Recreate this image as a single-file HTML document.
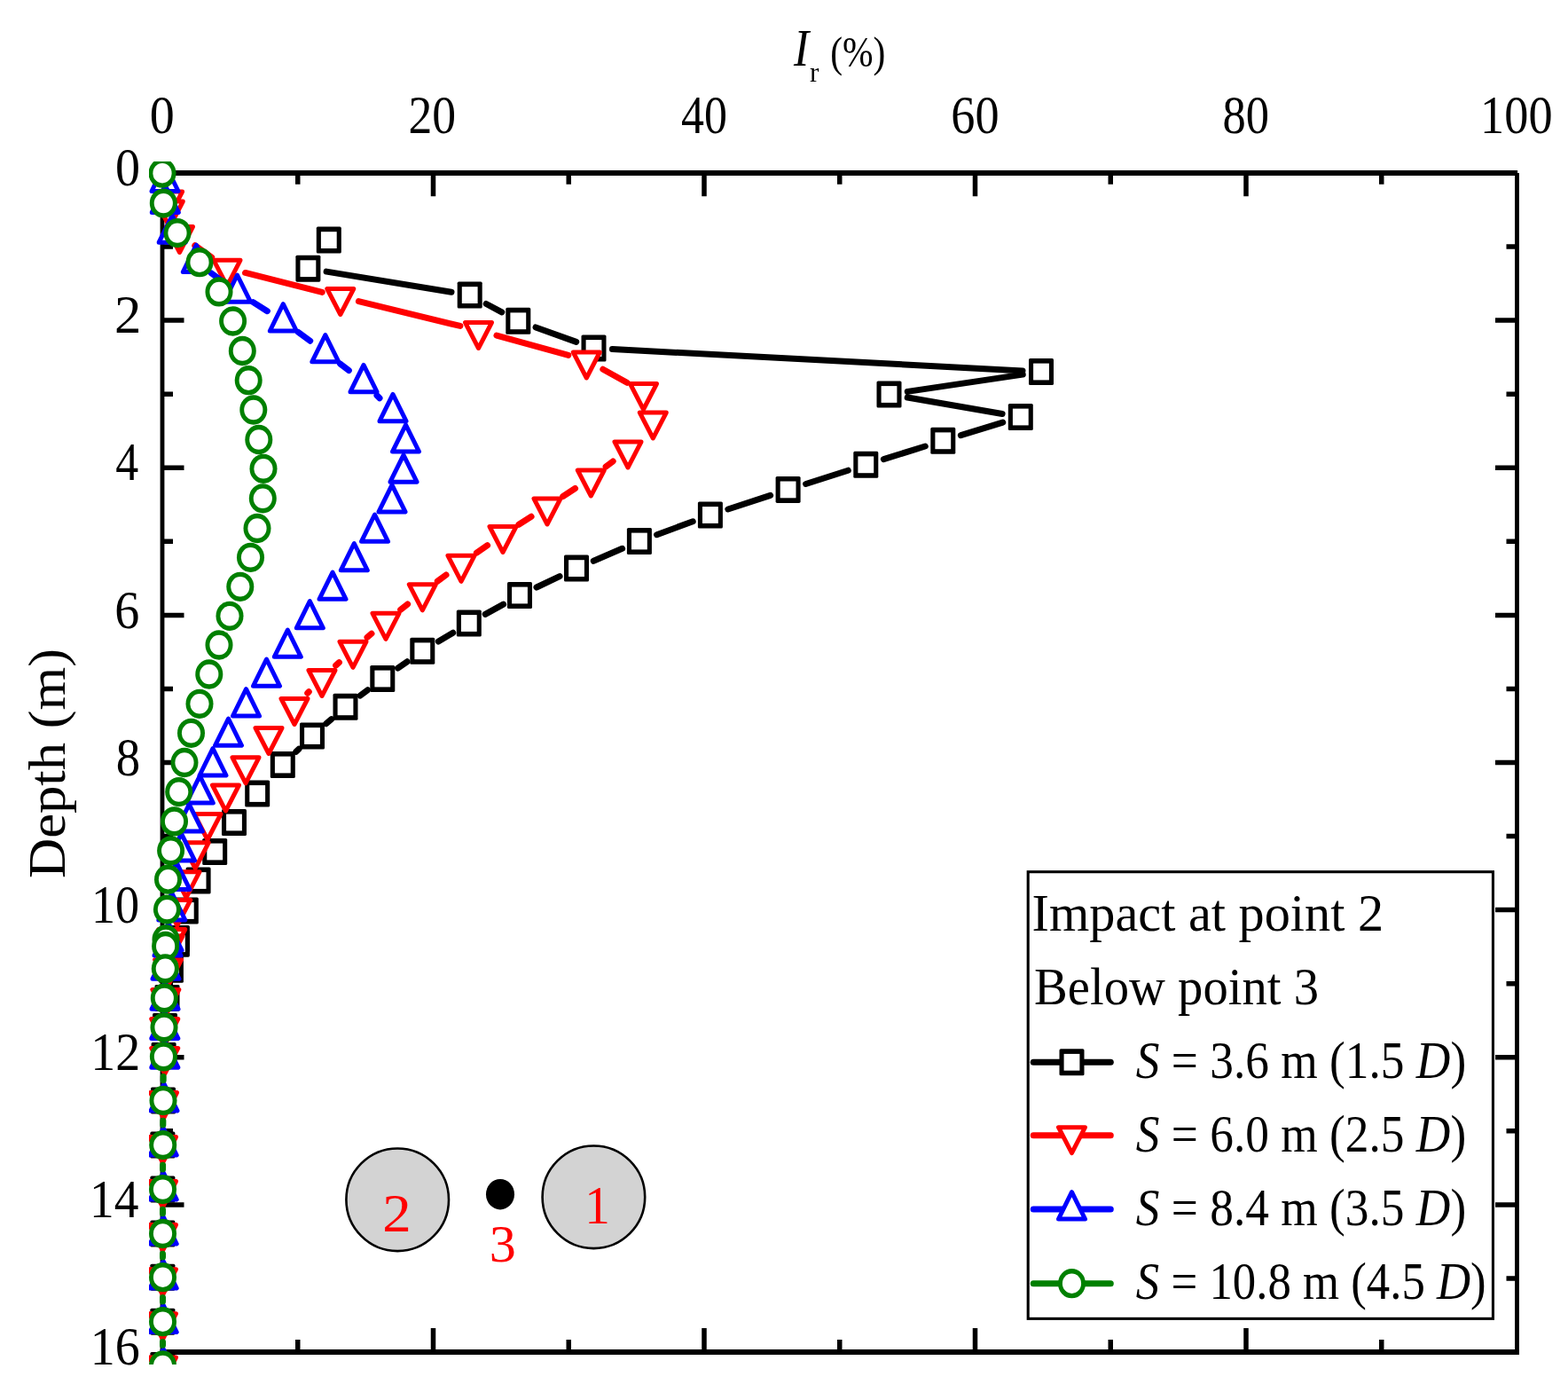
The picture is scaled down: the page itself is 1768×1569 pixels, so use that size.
<!DOCTYPE html><html><head><meta charset="utf-8"><title>Ir vs depth</title><style>html,body{margin:0;padding:0;background:#fff;}svg{display:block;}text{font-family:"Liberation Serif","Times New Roman",serif;}</style></head><body>
<svg width="1768" height="1569" viewBox="0 0 1768 1569">
<rect width="1768" height="1569" fill="#fff"/>
<text transform="matrix(0.89 0 0 1.02 895.1 73.8)" font-size="58" font-style="italic" fill="#000">I</text>
<text transform="matrix(0.92 0 0 0.93 912.88 91.6)" font-size="34" fill="#000">r</text>
<text transform="matrix(0.83 0 0 0.97 936.24 75.19)" font-size="50" fill="#000">(%)</text>
<text transform="matrix(0.95 0 0 1.03 168.8 149.9)" font-size="59" fill="#000">0</text>
<text transform="matrix(0.91 0 0 1.03 460.47 149.9)" font-size="59" fill="#000">20</text>
<text transform="matrix(0.88 0 0 1.03 768.02 149.9)" font-size="59" fill="#000">40</text>
<text transform="matrix(0.92 0 0 1.03 1072.25 149.9)" font-size="59" fill="#000">60</text>
<text transform="matrix(0.89 0 0 1.03 1378.42 149.9)" font-size="59" fill="#000">80</text>
<text transform="matrix(0.92 0 0 1.03 1669.11 149.9)" font-size="59" fill="#000">100</text>
<text transform="matrix(0.95 0 0 1.03 130.1 209.2)" font-size="59" fill="#000">0</text>
<text transform="matrix(1.03 0 0 1.03 128.91 375.32)" font-size="59" fill="#000">2</text>
<text transform="matrix(0.88 0 0 1.03 130.32 541.45)" font-size="59" fill="#000">4</text>
<text transform="matrix(0.95 0 0 1.03 129.16 707.58)" font-size="59" fill="#000">6</text>
<text transform="matrix(0.93 0 0 1.03 130.64 873.7)" font-size="59" fill="#000">8</text>
<text transform="matrix(0.92 0 0 1.03 102.97 1039.83)" font-size="59" fill="#000">10</text>
<text transform="matrix(0.95 0 0 1.03 102.34 1205.95)" font-size="59" fill="#000">12</text>
<text transform="matrix(0.94 0 0 1.03 101.09 1372.08)" font-size="59" fill="#000">14</text>
<text transform="matrix(0.95 0 0 1.03 101.77 1538.2)" font-size="59" fill="#000">16</text>
<text transform="matrix(0 -1.08 1.01 0 72.7 990.06)" font-size="58" fill="#000">Depth (m)</text>
<path d="M335.75 195V207.8M335.75 1524V1510M488.5 195V221.3M488.5 1524V1497M641.25 195V207.8M641.25 1524V1510M794 195V221.3M794 1524V1497M946.75 195V207.8M946.75 1524V1510M1099.5 195V221.3M1099.5 1524V1497M1252.25 195V207.8M1252.25 1524V1510M1405 195V221.3M1405 1524V1497M1557.75 195V207.8M1557.75 1524V1510M183 278.06H195M1710.5 278.06H1698.5M183 361.12H207.5M1710.5 361.12H1686M183 444.19H195M1710.5 444.19H1698.5M183 527.25H207.5M1710.5 527.25H1686M183 610.31H195M1710.5 610.31H1698.5M183 693.38H207.5M1710.5 693.38H1686M183 776.44H195M1710.5 776.44H1698.5M183 859.5H207.5M1710.5 859.5H1686M183 942.56H195M1710.5 942.56H1698.5M183 1025.62H207.5M1710.5 1025.62H1686M183 1108.69H195M1710.5 1108.69H1698.5M183 1191.75H207.5M1710.5 1191.75H1686M183 1274.81H195M1710.5 1274.81H1698.5M183 1357.88H207.5M1710.5 1357.88H1686M183 1440.94H195M1710.5 1440.94H1698.5" stroke="#000" stroke-width="5.5" fill="none"/>
<path d="M180.6 195H1711.1M180.6 1524H1712.9" stroke="#000" stroke-width="5.8" fill="none"/>
<path d="M183 192.1V1526.9M1710.5 195V1526.9" stroke="#000" stroke-width="4.8" fill="none"/>
<defs><clipPath id="cp"><rect x="168" y="182" width="1560" height="1356"/></clipPath></defs>
<g clip-path="url(#cp)">
<path d="M368.12 306.1L508.98 329.2M548.22 342.5L565.78 351.9M604.06 368.92L649.74 385.38M690.47 393.6L1153.03 417.9M1153.23 422.09L1023.27 441.41M1023.2 448.06L1130.1 466.44M1130.72 476.15L1083.38 490.65M1043.24 503.02L996.36 517.58M956.3 530.21L908.6 545.49M868.63 558.41L820.87 573.99M781.2 587.77L740.6 602.73M701.62 618.32L669.28 632.28M631.03 649.61L604.97 661.99M567.6 681.13L547.2 692.37M510.76 713.25L494.34 723.05M459.04 745.77L448.56 753.03M414.59 777.71L406.21 784.09M373.67 810.6L367.83 815.7M336.99 844.19L333.81 847.31" fill="none" stroke="#000" stroke-width="7.0" stroke-linecap="round"/>
<rect x="356.8" y="255.6" width="28" height="30" rx="1.6" fill="#000"/><rect x="361.9" y="261.2" width="17.8" height="18.8" fill="#fff"/>
<rect x="333.4" y="287.7" width="28" height="30" rx="1.6" fill="#000"/><rect x="338.5" y="293.3" width="17.8" height="18.8" fill="#fff"/>
<rect x="515.7" y="317.6" width="28" height="30" rx="1.6" fill="#000"/><rect x="520.8" y="323.2" width="17.8" height="18.8" fill="#fff"/>
<rect x="570.3" y="346.8" width="28" height="30" rx="1.6" fill="#000"/><rect x="575.4" y="352.4" width="17.8" height="18.8" fill="#fff"/>
<rect x="655.5" y="377.5" width="28" height="30" rx="1.6" fill="#000"/><rect x="660.6" y="383.1" width="17.8" height="18.8" fill="#fff"/>
<rect x="1160" y="404" width="28" height="30" rx="1.6" fill="#000"/><rect x="1165.1" y="409.6" width="17.8" height="18.8" fill="#fff"/>
<rect x="988.5" y="429.5" width="28" height="30" rx="1.6" fill="#000"/><rect x="993.6" y="435.1" width="17.8" height="18.8" fill="#fff"/>
<rect x="1136.8" y="455" width="28" height="30" rx="1.6" fill="#000"/><rect x="1141.9" y="460.6" width="17.8" height="18.8" fill="#fff"/>
<rect x="1049.3" y="481.8" width="28" height="30" rx="1.6" fill="#000"/><rect x="1054.4" y="487.4" width="17.8" height="18.8" fill="#fff"/>
<rect x="962.3" y="508.8" width="28" height="30" rx="1.6" fill="#000"/><rect x="967.4" y="514.4" width="17.8" height="18.8" fill="#fff"/>
<rect x="874.6" y="536.9" width="28" height="30" rx="1.6" fill="#000"/><rect x="879.7" y="542.5" width="17.8" height="18.8" fill="#fff"/>
<rect x="786.9" y="565.5" width="28" height="30" rx="1.6" fill="#000"/><rect x="792" y="571.1" width="17.8" height="18.8" fill="#fff"/>
<rect x="706.9" y="595" width="28" height="30" rx="1.6" fill="#000"/><rect x="712" y="600.6" width="17.8" height="18.8" fill="#fff"/>
<rect x="636" y="625.6" width="28" height="30" rx="1.6" fill="#000"/><rect x="641.1" y="631.2" width="17.8" height="18.8" fill="#fff"/>
<rect x="572" y="656" width="28" height="30" rx="1.6" fill="#000"/><rect x="577.1" y="661.6" width="17.8" height="18.8" fill="#fff"/>
<rect x="514.8" y="687.5" width="28" height="30" rx="1.6" fill="#000"/><rect x="519.9" y="693.1" width="17.8" height="18.8" fill="#fff"/>
<rect x="462.3" y="718.8" width="28" height="30" rx="1.6" fill="#000"/><rect x="467.4" y="724.4" width="17.8" height="18.8" fill="#fff"/>
<rect x="417.3" y="750" width="28" height="30" rx="1.6" fill="#000"/><rect x="422.4" y="755.6" width="17.8" height="18.8" fill="#fff"/>
<rect x="375.5" y="781.8" width="28" height="30" rx="1.6" fill="#000"/><rect x="380.6" y="787.4" width="17.8" height="18.8" fill="#fff"/>
<rect x="338" y="814.5" width="28" height="30" rx="1.6" fill="#000"/><rect x="343.1" y="820.1" width="17.8" height="18.8" fill="#fff"/>
<rect x="304.8" y="847" width="28" height="30" rx="1.6" fill="#000"/><rect x="309.9" y="852.6" width="17.8" height="18.8" fill="#fff"/>
<rect x="276.2" y="879.5" width="28" height="30" rx="1.6" fill="#000"/><rect x="281.3" y="885.1" width="17.8" height="18.8" fill="#fff"/>
<rect x="250" y="912" width="28" height="30" rx="1.6" fill="#000"/><rect x="255.1" y="917.6" width="17.8" height="18.8" fill="#fff"/>
<rect x="228.2" y="945" width="28" height="30" rx="1.6" fill="#000"/><rect x="233.3" y="950.6" width="17.8" height="18.8" fill="#fff"/>
<rect x="209.6" y="977.5" width="28" height="30" rx="1.6" fill="#000"/><rect x="214.7" y="983.1" width="17.8" height="18.8" fill="#fff"/>
<rect x="195.8" y="1011.5" width="28" height="30" rx="1.6" fill="#000"/><rect x="200.9" y="1017.1" width="17.8" height="18.8" fill="#fff"/>
<rect x="185.9" y="1043" width="28" height="30" rx="1.6" fill="#000"/><rect x="191" y="1048.6" width="17.8" height="18.8" fill="#fff"/>
<rect x="185.9" y="1048.7" width="28" height="30" rx="1.6" fill="#000"/><rect x="191" y="1054.3" width="17.8" height="18.8" fill="#fff"/>
<rect x="178.9" y="1077.8" width="28" height="30" rx="1.6" fill="#000"/><rect x="184" y="1083.4" width="17.8" height="18.8" fill="#fff"/>
<rect x="174.5" y="1110" width="28" height="30" rx="1.6" fill="#000"/><rect x="179.6" y="1115.6" width="17.8" height="18.8" fill="#fff"/>
<rect x="172" y="1142" width="28" height="30" rx="1.6" fill="#000"/><rect x="177.1" y="1147.6" width="17.8" height="18.8" fill="#fff"/>
<rect x="170.6" y="1175" width="28" height="30" rx="1.6" fill="#000"/><rect x="175.7" y="1180.6" width="17.8" height="18.8" fill="#fff"/>
<rect x="170" y="1225.5" width="28" height="30" rx="1.6" fill="#000"/><rect x="175.1" y="1231.1" width="17.8" height="18.8" fill="#fff"/>
<rect x="169.4" y="1275.6" width="28" height="30" rx="1.6" fill="#000"/><rect x="174.5" y="1281.2" width="17.8" height="18.8" fill="#fff"/>
<rect x="169.4" y="1325.6" width="28" height="30" rx="1.6" fill="#000"/><rect x="174.5" y="1331.2" width="17.8" height="18.8" fill="#fff"/>
<rect x="169.4" y="1375.5" width="28" height="30" rx="1.6" fill="#000"/><rect x="174.5" y="1381.1" width="17.8" height="18.8" fill="#fff"/>
<rect x="169.4" y="1424.7" width="28" height="30" rx="1.6" fill="#000"/><rect x="174.5" y="1430.3" width="17.8" height="18.8" fill="#fff"/>
<rect x="169.4" y="1474.7" width="28" height="30" rx="1.6" fill="#000"/><rect x="174.5" y="1480.3" width="17.8" height="18.8" fill="#fff"/>
<rect x="169.4" y="1524" width="28" height="30" rx="1.6" fill="#000"/><rect x="174.5" y="1529.6" width="17.8" height="18.8" fill="#fff"/>
<path d="M219.81 276.73L238.69 290.07M276.56 307.48L363.24 329.32M404.4 339.53L518.9 367.47M559.94 378.12L640.86 400.38M679.85 416.26L706.95 431.24M691.18 519.91L683.12 526.09M648.52 550.54L634.78 559.46M599.06 582.3L584.94 591.2M549.61 614.63L537.39 623.17M502.99 647.95L493.31 655.15M459.64 680.91L451.66 687.19M418.97 714.17L414.03 718.43M382.4 746.65L378.6 750.15M348.25 779.73L346.75 781.27" fill="none" stroke="#f00" stroke-width="7.0" stroke-linecap="round"/>
<path d="M175.6 216L205.6 216L190.6 245Z" fill="#fff" stroke="#f00" stroke-width="5.0" stroke-linejoin="round"/>
<path d="M176.3 227L206.3 227L191.3 256Z" fill="#fff" stroke="#f00" stroke-width="5.0" stroke-linejoin="round"/>
<path d="M187.5 255.5L217.5 255.5L202.5 284.5Z" fill="#fff" stroke="#f00" stroke-width="5.0" stroke-linejoin="round"/>
<path d="M241 293.3L271 293.3L256 322.3Z" fill="#fff" stroke="#f00" stroke-width="5.0" stroke-linejoin="round"/>
<path d="M368.8 325.5L398.8 325.5L383.8 354.5Z" fill="#fff" stroke="#f00" stroke-width="5.0" stroke-linejoin="round"/>
<path d="M524.5 363.5L554.5 363.5L539.5 392.5Z" fill="#fff" stroke="#f00" stroke-width="5.0" stroke-linejoin="round"/>
<path d="M646.3 397L676.3 397L661.3 426Z" fill="#fff" stroke="#f00" stroke-width="5.0" stroke-linejoin="round"/>
<path d="M710.5 432.5L740.5 432.5L725.5 461.5Z" fill="#fff" stroke="#f00" stroke-width="5.0" stroke-linejoin="round"/>
<path d="M721.3 465L751.3 465L736.3 494Z" fill="#fff" stroke="#f00" stroke-width="5.0" stroke-linejoin="round"/>
<path d="M693 498L723 498L708 527Z" fill="#fff" stroke="#f00" stroke-width="5.0" stroke-linejoin="round"/>
<path d="M651.3 530L681.3 530L666.3 559Z" fill="#fff" stroke="#f00" stroke-width="5.0" stroke-linejoin="round"/>
<path d="M602 562L632 562L617 591Z" fill="#fff" stroke="#f00" stroke-width="5.0" stroke-linejoin="round"/>
<path d="M552 593.5L582 593.5L567 622.5Z" fill="#fff" stroke="#f00" stroke-width="5.0" stroke-linejoin="round"/>
<path d="M505 626.3L535 626.3L520 655.3Z" fill="#fff" stroke="#f00" stroke-width="5.0" stroke-linejoin="round"/>
<path d="M461.3 658.8L491.3 658.8L476.3 687.8Z" fill="#fff" stroke="#f00" stroke-width="5.0" stroke-linejoin="round"/>
<path d="M420 691.3L450 691.3L435 720.3Z" fill="#fff" stroke="#f00" stroke-width="5.0" stroke-linejoin="round"/>
<path d="M383 723.3L413 723.3L398 752.3Z" fill="#fff" stroke="#f00" stroke-width="5.0" stroke-linejoin="round"/>
<path d="M348 755.5L378 755.5L363 784.5Z" fill="#fff" stroke="#f00" stroke-width="5.0" stroke-linejoin="round"/>
<path d="M317 787.5L347 787.5L332 816.5Z" fill="#fff" stroke="#f00" stroke-width="5.0" stroke-linejoin="round"/>
<path d="M288 820.5L318 820.5L303 849.5Z" fill="#fff" stroke="#f00" stroke-width="5.0" stroke-linejoin="round"/>
<path d="M262 853.8L292 853.8L277 882.8Z" fill="#fff" stroke="#f00" stroke-width="5.0" stroke-linejoin="round"/>
<path d="M239.5 885L269.5 885L254.5 914Z" fill="#fff" stroke="#f00" stroke-width="5.0" stroke-linejoin="round"/>
<path d="M219 917.5L249 917.5L234 946.5Z" fill="#fff" stroke="#f00" stroke-width="5.0" stroke-linejoin="round"/>
<path d="M205.2 949.8L235.2 949.8L220.2 978.8Z" fill="#fff" stroke="#f00" stroke-width="5.0" stroke-linejoin="round"/>
<path d="M195 982.7L225 982.7L210 1011.7Z" fill="#fff" stroke="#f00" stroke-width="5.0" stroke-linejoin="round"/>
<path d="M184.8 1014.4L214.8 1014.4L199.8 1043.4Z" fill="#fff" stroke="#f00" stroke-width="5.0" stroke-linejoin="round"/>
<path d="M178.8 1047.5L208.8 1047.5L193.8 1076.5Z" fill="#fff" stroke="#f00" stroke-width="5.0" stroke-linejoin="round"/>
<path d="M176 1055L206 1055L191 1084Z" fill="#fff" stroke="#f00" stroke-width="5.0" stroke-linejoin="round"/>
<path d="M174.6 1081.7L204.6 1081.7L189.6 1110.7Z" fill="#fff" stroke="#f00" stroke-width="5.0" stroke-linejoin="round"/>
<path d="M171.9 1115.4L201.9 1115.4L186.9 1144.4Z" fill="#fff" stroke="#f00" stroke-width="5.0" stroke-linejoin="round"/>
<path d="M170.8 1148.5L200.8 1148.5L185.8 1177.5Z" fill="#fff" stroke="#f00" stroke-width="5.0" stroke-linejoin="round"/>
<path d="M170.8 1181.4L200.8 1181.4L185.8 1210.4Z" fill="#fff" stroke="#f00" stroke-width="5.0" stroke-linejoin="round"/>
<path d="M169.5 1231.5L199.5 1231.5L184.5 1260.5Z" fill="#fff" stroke="#f00" stroke-width="5.0" stroke-linejoin="round"/>
<path d="M168.5 1281.6L198.5 1281.6L183.5 1310.6Z" fill="#fff" stroke="#f00" stroke-width="5.0" stroke-linejoin="round"/>
<path d="M168.5 1331.6L198.5 1331.6L183.5 1360.6Z" fill="#fff" stroke="#f00" stroke-width="5.0" stroke-linejoin="round"/>
<path d="M168.5 1380.5L198.5 1380.5L183.5 1409.5Z" fill="#fff" stroke="#f00" stroke-width="5.0" stroke-linejoin="round"/>
<path d="M168.5 1430.7L198.5 1430.7L183.5 1459.7Z" fill="#fff" stroke="#f00" stroke-width="5.0" stroke-linejoin="round"/>
<path d="M168.5 1480.7L198.5 1480.7L183.5 1509.7Z" fill="#fff" stroke="#f00" stroke-width="5.0" stroke-linejoin="round"/>
<path d="M168.5 1530L198.5 1530L183.5 1559Z" fill="#fff" stroke="#f00" stroke-width="5.0" stroke-linejoin="round"/>
<path d="M238.41 308.02L250.39 316.78M285.43 340.62L301.37 350.68M336.4 374.53L349.7 384.27M383.48 409.89L393.32 417.61M424.99 445.69L428.01 448.71" fill="none" stroke="#00f" stroke-width="7.0" stroke-linecap="round"/>
<path d="M186 185.2L201 215.5L171 215.5Z" fill="#fff" stroke="#00f" stroke-width="5.0" stroke-linejoin="round"/>
<path d="M186.3 209.1L201.3 239.4L171.3 239.4Z" fill="#fff" stroke="#00f" stroke-width="5.0" stroke-linejoin="round"/>
<path d="M194.2 242.9L209.2 273.2L179.2 273.2Z" fill="#fff" stroke="#00f" stroke-width="5.0" stroke-linejoin="round"/>
<path d="M221.3 276.2L236.3 306.5L206.3 306.5Z" fill="#fff" stroke="#00f" stroke-width="5.0" stroke-linejoin="round"/>
<path d="M267.5 310L282.5 340.3L252.5 340.3Z" fill="#fff" stroke="#00f" stroke-width="5.0" stroke-linejoin="round"/>
<path d="M319.3 342.7L334.3 373L304.3 373Z" fill="#fff" stroke="#00f" stroke-width="5.0" stroke-linejoin="round"/>
<path d="M366.8 377.5L381.8 407.8L351.8 407.8Z" fill="#fff" stroke="#00f" stroke-width="5.0" stroke-linejoin="round"/>
<path d="M410 411.4L425 441.7L395 441.7Z" fill="#fff" stroke="#00f" stroke-width="5.0" stroke-linejoin="round"/>
<path d="M443 444.4L458 474.7L428 474.7Z" fill="#fff" stroke="#00f" stroke-width="5.0" stroke-linejoin="round"/>
<path d="M457.5 478.8L472.5 509.1L442.5 509.1Z" fill="#fff" stroke="#00f" stroke-width="5.0" stroke-linejoin="round"/>
<path d="M455 512.9L470 543.2L440 543.2Z" fill="#fff" stroke="#00f" stroke-width="5.0" stroke-linejoin="round"/>
<path d="M442 546.6L457 576.9L427 576.9Z" fill="#fff" stroke="#00f" stroke-width="5.0" stroke-linejoin="round"/>
<path d="M422.5 580L437.5 610.3L407.5 610.3Z" fill="#fff" stroke="#00f" stroke-width="5.0" stroke-linejoin="round"/>
<path d="M399.3 612.5L414.3 642.8L384.3 642.8Z" fill="#fff" stroke="#00f" stroke-width="5.0" stroke-linejoin="round"/>
<path d="M375 645L390 675.3L360 675.3Z" fill="#fff" stroke="#00f" stroke-width="5.0" stroke-linejoin="round"/>
<path d="M349.3 677.5L364.3 707.8L334.3 707.8Z" fill="#fff" stroke="#00f" stroke-width="5.0" stroke-linejoin="round"/>
<path d="M324.3 710L339.3 740.3L309.3 740.3Z" fill="#fff" stroke="#00f" stroke-width="5.0" stroke-linejoin="round"/>
<path d="M300.5 743L315.5 773.3L285.5 773.3Z" fill="#fff" stroke="#00f" stroke-width="5.0" stroke-linejoin="round"/>
<path d="M277.5 776.7L292.5 807L262.5 807Z" fill="#fff" stroke="#00f" stroke-width="5.0" stroke-linejoin="round"/>
<path d="M257.5 810L272.5 840.3L242.5 840.3Z" fill="#fff" stroke="#00f" stroke-width="5.0" stroke-linejoin="round"/>
<path d="M240 843.7L255 874L225 874Z" fill="#fff" stroke="#00f" stroke-width="5.0" stroke-linejoin="round"/>
<path d="M225.3 874.7L240.3 905L210.3 905Z" fill="#fff" stroke="#00f" stroke-width="5.0" stroke-linejoin="round"/>
<path d="M213.3 906.7L228.3 937L198.3 937Z" fill="#fff" stroke="#00f" stroke-width="5.0" stroke-linejoin="round"/>
<path d="M204.5 939.6L219.5 969.9L189.5 969.9Z" fill="#fff" stroke="#00f" stroke-width="5.0" stroke-linejoin="round"/>
<path d="M199 972.2L214 1002.5L184 1002.5Z" fill="#fff" stroke="#00f" stroke-width="5.0" stroke-linejoin="round"/>
<path d="M193.8 1006.7L208.8 1037L178.8 1037Z" fill="#fff" stroke="#00f" stroke-width="5.0" stroke-linejoin="round"/>
<path d="M190 1040.7L205 1071L175 1071Z" fill="#fff" stroke="#00f" stroke-width="5.0" stroke-linejoin="round"/>
<path d="M189 1046.7L204 1077L174 1077Z" fill="#fff" stroke="#00f" stroke-width="5.0" stroke-linejoin="round"/>
<path d="M187 1073L202 1103.3L172 1103.3Z" fill="#fff" stroke="#00f" stroke-width="5.0" stroke-linejoin="round"/>
<path d="M186 1107L201 1137.3L171 1137.3Z" fill="#fff" stroke="#00f" stroke-width="5.0" stroke-linejoin="round"/>
<path d="M185.8 1140.1L200.8 1170.4L170.8 1170.4Z" fill="#fff" stroke="#00f" stroke-width="5.0" stroke-linejoin="round"/>
<path d="M185.8 1172.9L200.8 1203.2L170.8 1203.2Z" fill="#fff" stroke="#00f" stroke-width="5.0" stroke-linejoin="round"/>
<path d="M185 1221.7L200 1252L170 1252Z" fill="#fff" stroke="#00f" stroke-width="5.0" stroke-linejoin="round"/>
<path d="M184.2 1271.7L199.2 1302L169.2 1302Z" fill="#fff" stroke="#00f" stroke-width="5.0" stroke-linejoin="round"/>
<path d="M184.2 1321.7L199.2 1352L169.2 1352Z" fill="#fff" stroke="#00f" stroke-width="5.0" stroke-linejoin="round"/>
<path d="M184.2 1371.7L199.2 1402L169.2 1402Z" fill="#fff" stroke="#00f" stroke-width="5.0" stroke-linejoin="round"/>
<path d="M184.2 1421.7L199.2 1452L169.2 1452Z" fill="#fff" stroke="#00f" stroke-width="5.0" stroke-linejoin="round"/>
<path d="M184.2 1471.2L199.2 1501.5L169.2 1501.5Z" fill="#fff" stroke="#00f" stroke-width="5.0" stroke-linejoin="round"/>
<path d="M184.2 1520.7L199.2 1551L169.2 1551Z" fill="#fff" stroke="#00f" stroke-width="5.0" stroke-linejoin="round"/>
<path d="M184.22 1213.6L184.18 1217.8M183.86 1263.2L183.84 1267.9M183.61 1313.3L183.59 1317.9M183.5 1363.3L183.5 1367.8M183.5 1413.2L183.5 1417M183.5 1462.4L183.5 1467M183.5 1512.4L183.5 1516.3" fill="none" stroke="#008000" stroke-width="7.0" stroke-linecap="round"/>
<ellipse cx="183" cy="195.2" rx="15.5" ry="16.65" fill="#008000"/><ellipse cx="183" cy="195.2" rx="10.6" ry="11.2" fill="#fff"/>
<ellipse cx="184.3" cy="229.1" rx="15.5" ry="16.65" fill="#008000"/><ellipse cx="184.3" cy="229.1" rx="10.6" ry="11.2" fill="#fff"/>
<ellipse cx="200" cy="262.6" rx="15.5" ry="16.65" fill="#008000"/><ellipse cx="200" cy="262.6" rx="10.6" ry="11.2" fill="#fff"/>
<ellipse cx="225" cy="295.7" rx="15.5" ry="16.65" fill="#008000"/><ellipse cx="225" cy="295.7" rx="10.6" ry="11.2" fill="#fff"/>
<ellipse cx="247" cy="328.9" rx="15.5" ry="16.65" fill="#008000"/><ellipse cx="247" cy="328.9" rx="10.6" ry="11.2" fill="#fff"/>
<ellipse cx="262.6" cy="362" rx="15.5" ry="16.65" fill="#008000"/><ellipse cx="262.6" cy="362" rx="10.6" ry="11.2" fill="#fff"/>
<ellipse cx="273.3" cy="395.5" rx="15.5" ry="16.65" fill="#008000"/><ellipse cx="273.3" cy="395.5" rx="10.6" ry="11.2" fill="#fff"/>
<ellipse cx="280.2" cy="428.7" rx="15.5" ry="16.65" fill="#008000"/><ellipse cx="280.2" cy="428.7" rx="10.6" ry="11.2" fill="#fff"/>
<ellipse cx="285.8" cy="462" rx="15.5" ry="16.65" fill="#008000"/><ellipse cx="285.8" cy="462" rx="10.6" ry="11.2" fill="#fff"/>
<ellipse cx="291.8" cy="495.5" rx="15.5" ry="16.65" fill="#008000"/><ellipse cx="291.8" cy="495.5" rx="10.6" ry="11.2" fill="#fff"/>
<ellipse cx="297" cy="528.3" rx="15.5" ry="16.65" fill="#008000"/><ellipse cx="297" cy="528.3" rx="10.6" ry="11.2" fill="#fff"/>
<ellipse cx="296.3" cy="561.8" rx="15.5" ry="16.65" fill="#008000"/><ellipse cx="296.3" cy="561.8" rx="10.6" ry="11.2" fill="#fff"/>
<ellipse cx="290" cy="595.5" rx="15.5" ry="16.65" fill="#008000"/><ellipse cx="290" cy="595.5" rx="10.6" ry="11.2" fill="#fff"/>
<ellipse cx="282.5" cy="628.3" rx="15.5" ry="16.65" fill="#008000"/><ellipse cx="282.5" cy="628.3" rx="10.6" ry="11.2" fill="#fff"/>
<ellipse cx="270.8" cy="661.3" rx="15.5" ry="16.65" fill="#008000"/><ellipse cx="270.8" cy="661.3" rx="10.6" ry="11.2" fill="#fff"/>
<ellipse cx="259" cy="694.3" rx="15.5" ry="16.65" fill="#008000"/><ellipse cx="259" cy="694.3" rx="10.6" ry="11.2" fill="#fff"/>
<ellipse cx="247" cy="727" rx="15.5" ry="16.65" fill="#008000"/><ellipse cx="247" cy="727" rx="10.6" ry="11.2" fill="#fff"/>
<ellipse cx="235.8" cy="760" rx="15.5" ry="16.65" fill="#008000"/><ellipse cx="235.8" cy="760" rx="10.6" ry="11.2" fill="#fff"/>
<ellipse cx="225" cy="793.3" rx="15.5" ry="16.65" fill="#008000"/><ellipse cx="225" cy="793.3" rx="10.6" ry="11.2" fill="#fff"/>
<ellipse cx="215.5" cy="826.3" rx="15.5" ry="16.65" fill="#008000"/><ellipse cx="215.5" cy="826.3" rx="10.6" ry="11.2" fill="#fff"/>
<ellipse cx="208" cy="859.5" rx="15.5" ry="16.65" fill="#008000"/><ellipse cx="208" cy="859.5" rx="10.6" ry="11.2" fill="#fff"/>
<ellipse cx="201.7" cy="892.6" rx="15.5" ry="16.65" fill="#008000"/><ellipse cx="201.7" cy="892.6" rx="10.6" ry="11.2" fill="#fff"/>
<ellipse cx="196.5" cy="925.9" rx="15.5" ry="16.65" fill="#008000"/><ellipse cx="196.5" cy="925.9" rx="10.6" ry="11.2" fill="#fff"/>
<ellipse cx="192.6" cy="958.8" rx="15.5" ry="16.65" fill="#008000"/><ellipse cx="192.6" cy="958.8" rx="10.6" ry="11.2" fill="#fff"/>
<ellipse cx="189.5" cy="991.2" rx="15.5" ry="16.65" fill="#008000"/><ellipse cx="189.5" cy="991.2" rx="10.6" ry="11.2" fill="#fff"/>
<ellipse cx="188.4" cy="1025.1" rx="15.5" ry="16.65" fill="#008000"/><ellipse cx="188.4" cy="1025.1" rx="10.6" ry="11.2" fill="#fff"/>
<ellipse cx="187" cy="1059" rx="15.5" ry="16.65" fill="#008000"/><ellipse cx="187" cy="1059" rx="10.6" ry="11.2" fill="#fff"/>
<ellipse cx="186.6" cy="1066.5" rx="15.5" ry="16.65" fill="#008000"/><ellipse cx="186.6" cy="1066.5" rx="10.6" ry="11.2" fill="#fff"/>
<ellipse cx="186.3" cy="1091.8" rx="15.5" ry="16.65" fill="#008000"/><ellipse cx="186.3" cy="1091.8" rx="10.6" ry="11.2" fill="#fff"/>
<ellipse cx="185.3" cy="1124.9" rx="15.5" ry="16.65" fill="#008000"/><ellipse cx="185.3" cy="1124.9" rx="10.6" ry="11.2" fill="#fff"/>
<ellipse cx="185" cy="1157.9" rx="15.5" ry="16.65" fill="#008000"/><ellipse cx="185" cy="1157.9" rx="10.6" ry="11.2" fill="#fff"/>
<ellipse cx="184.4" cy="1190.9" rx="15.5" ry="16.65" fill="#008000"/><ellipse cx="184.4" cy="1190.9" rx="10.6" ry="11.2" fill="#fff"/>
<ellipse cx="184" cy="1240.5" rx="15.5" ry="16.65" fill="#008000"/><ellipse cx="184" cy="1240.5" rx="10.6" ry="11.2" fill="#fff"/>
<ellipse cx="183.7" cy="1290.6" rx="15.5" ry="16.65" fill="#008000"/><ellipse cx="183.7" cy="1290.6" rx="10.6" ry="11.2" fill="#fff"/>
<ellipse cx="183.5" cy="1340.6" rx="15.5" ry="16.65" fill="#008000"/><ellipse cx="183.5" cy="1340.6" rx="10.6" ry="11.2" fill="#fff"/>
<ellipse cx="183.5" cy="1390.5" rx="15.5" ry="16.65" fill="#008000"/><ellipse cx="183.5" cy="1390.5" rx="10.6" ry="11.2" fill="#fff"/>
<ellipse cx="183.5" cy="1439.7" rx="15.5" ry="16.65" fill="#008000"/><ellipse cx="183.5" cy="1439.7" rx="10.6" ry="11.2" fill="#fff"/>
<ellipse cx="183.5" cy="1489.7" rx="15.5" ry="16.65" fill="#008000"/><ellipse cx="183.5" cy="1489.7" rx="10.6" ry="11.2" fill="#fff"/>
<ellipse cx="183.5" cy="1539" rx="15.5" ry="16.65" fill="#008000"/><ellipse cx="183.5" cy="1539" rx="10.6" ry="11.2" fill="#fff"/>
</g>
<circle cx="448.2" cy="1352.3" r="57.8" fill="#d3d3d3" stroke="#000" stroke-width="2.6"/>
<circle cx="669.4" cy="1349.3" r="57.8" fill="#d3d3d3" stroke="#000" stroke-width="2.6"/>
<ellipse cx="564" cy="1346.2" rx="16" ry="17.2" fill="#000"/>
<text transform="matrix(1.1 0 0 1.03 431.31 1387.5)" font-size="59" fill="#f00">2</text>
<text transform="matrix(0.97 0 0 1.03 659.14 1378.8)" font-size="59" fill="#f00">1</text>
<text transform="matrix(1.02 0 0 1.02 551.65 1421.5)" font-size="59" fill="#f00">3</text>
<rect x="1159.2" y="982.7" width="524.25" height="503.65" fill="#fff" stroke="#000" stroke-width="3.1"/>
<text transform="matrix(1.06 0 0 1.06 1163.58 1048.9)" font-size="55" fill="#000">Impact at point 2</text>
<text transform="matrix(1.03 0 0 1.06 1166.05 1131.9)" font-size="55" fill="#000">Below point 3</text>
<path d="M1165.2 1197.3H1252.3" stroke="#000" stroke-width="7.0" stroke-linecap="round"/>
<rect x="1194.5" y="1182.3" width="28" height="30" rx="1.6" fill="#000"/><rect x="1199.6" y="1187.9" width="17.8" height="18.8" fill="#fff"/>
<text transform="matrix(0.97 0 0 1.07 1280.83 1214.75)" font-size="55" fill="#000"><tspan font-style="italic">S</tspan> = 3.6 m (1.5 <tspan font-style="italic">D</tspan>)</text>
<path d="M1165.2 1279.7H1252.3" stroke="#f00" stroke-width="7.0" stroke-linecap="round"/>
<path d="M1193.5 1270.7L1223.5 1270.7L1208.5 1299.7Z" fill="#fff" stroke="#f00" stroke-width="5.0" stroke-linejoin="round"/>
<text transform="matrix(0.97 0 0 1.07 1280.83 1297.7)" font-size="55" fill="#000"><tspan font-style="italic">S</tspan> = 6.0 m (2.5 <tspan font-style="italic">D</tspan>)</text>
<path d="M1165.2 1363H1252.3" stroke="#00f" stroke-width="7.0" stroke-linecap="round"/>
<path d="M1208.5 1343.7L1223.5 1374L1193.5 1374Z" fill="#fff" stroke="#00f" stroke-width="5.0" stroke-linejoin="round"/>
<text transform="matrix(0.97 0 0 1.07 1280.83 1380.6)" font-size="55" fill="#000"><tspan font-style="italic">S</tspan> = 8.4 m (3.5 <tspan font-style="italic">D</tspan>)</text>
<path d="M1165.2 1446.7H1252.3" stroke="#008000" stroke-width="7.0" stroke-linecap="round"/>
<ellipse cx="1208.5" cy="1446.7" rx="15.5" ry="16.65" fill="#008000"/><ellipse cx="1208.5" cy="1446.7" rx="10.6" ry="11.2" fill="#fff"/>
<text transform="matrix(0.96 0 0 1.07 1280.84 1463.5)" font-size="55" fill="#000"><tspan font-style="italic">S</tspan> = 10.8 m (4.5 <tspan font-style="italic">D</tspan>)</text>
</svg></body></html>
